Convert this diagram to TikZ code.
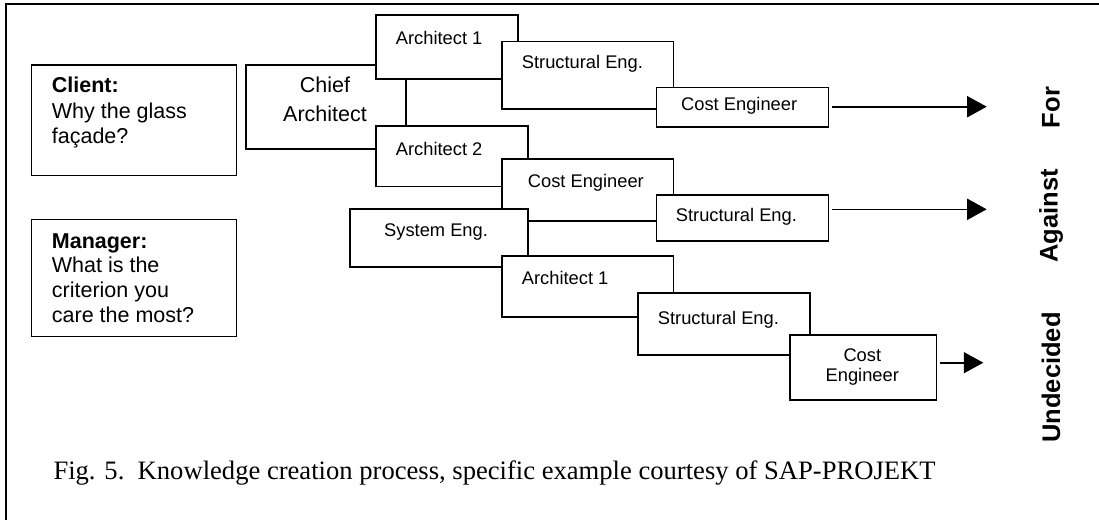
\documentclass[tikz,border=0pt]{standalone}
\usepackage{fontspec}
\setmainfont{Liberation Sans}
\newfontfamily\capfont{Liberation Serif}
\usetikzlibrary{arrows.meta,calc}
\tikzset{
  box/.style 2 args={draw, line width=1.6pt, fill=white, inner sep=0pt, anchor=north west,
    minimum width=#1pt, minimum height=#2pt},
  qbox/.style 2 args={box={#1}{#2}},
  small/.style={inner sep=0pt, anchor=base west, font=\fontsize{18.3}{22}\selectfont},
  smallc/.style={inner sep=0pt, anchor=base, font=\fontsize{18.3}{22}\selectfont},
  big/.style={inner sep=0pt, anchor=base west, font=\fontsize{21.5}{25}\selectfont},
  bigc/.style={inner sep=0pt, anchor=base, font=\fontsize{21.5}{25}\selectfont},
  bigb/.style={inner sep=0pt, anchor=base west, font=\fontsize{21.5}{25}\selectfont\bfseries},
  verdict/.style={inner sep=0pt, anchor=center, rotate=90, font=\fontsize{25.5}{30}\selectfont\bfseries},
  arr/.style={line width=1.6pt, -{Triangle[length=19.5pt,width=21pt]}, shorten <=3pt},
  frame/.style={line width=2pt}
}
\begin{document}
\begin{tikzpicture}[x=1pt,y=-1pt]
\useasboundingbox (0,0) rectangle (1099,519);
% outer frame (only left and top edges visible)
\coordinate (fb) at (6,525);
\coordinate (ftl) at (6,4);
\coordinate (fr) at (1105,4);
\draw[frame] (fb) -- (ftl) -- (fr);

% question boxes
\node[qbox={205.2}{110.4}] (client) at (30.5,64.3) {};
\node[bigb] (clientT) at (51.7,92.5) {Client:};
\node[big] (client1) at (51.7,118) {Why the glass};
\node[big] (client2) at (51.7,143) {façade?};

\node[qbox={205.2}{117}] (manager) at (30.5,218.7) {};
\node[bigb] (managerT) at (51.7,248.3) {Manager:};
\node[big] (manager1) at (51.7,272.5) {What is the};
\node[big] (manager2) at (51.7,297.5) {criterion you};
\node[big] (manager3) at (51.7,322.5) {care the most?};

% role boxes (later ones overlap earlier ones)
\node[box={160}{84}] (chief) at (245,64.3) {};
\node[bigc] (chiefT1) at (325,92.7) {Chief};
\node[bigc] (chiefT2) at (325,121.7) {Architect};

\node[box={142.3}{64}] (a1) at (375,14.3) {};
\node[small] (a1t) at (395.7,45) {Architect 1};

\node[box={152.3}{60.7}] (a2) at (375,125) {};
\node[small] (a2t) at (395.7,155.6) {Architect 2};

\node[box={171.7}{67.6}] (s1) at (501,40.7) {};
\node[small] (s1t) at (521.7,68.3) {Structural Eng.};

\node[box={172}{39.3}] (c1) at (655.7,86.7) {};
\node[small] (c1t) at (681,110.8) {Cost Engineer};

\node[box={171.7}{61.7}] (c2) at (501,158.3) {};
\node[small] (c2t) at (527.7,187.6) {Cost Engineer};

\node[box={172}{45.7}] (s2) at (655.7,194.3) {};
\node[small] (s2t) at (675.7,221.6) {Structural Eng.};

\node[box={178.3}{58}] (se) at (349,208.3) {};
\node[small] (set) at (384,236.6) {System Eng.};

\node[box={171.7}{61}] (a3) at (501,255) {};
\node[small] (a3t) at (521.7,284.3) {Architect 1};

\node[box={172}{62}] (s3) at (637.3,292.3) {};
\node[small] (s3t) at (657.7,324.9) {Structural Eng.};

\node[box={146.7}{64.7}] (c3) at (789,334.3) {};
\node[smallc] (c3t1) at (862.3,361.6) {Cost};
\node[smallc] (c3t2) at (862.3,381.6) {Engineer};

% outcome arrows
\coordinate (t1) at (986.7,106.7);
\coordinate (t2) at (986.7,209.3);
\coordinate (t3) at (983.3,362.7);
\draw[arr] (c1.east |- t1) -- (t1);
\draw[arr] (s2.east |- t2) -- (t2);
\draw[arr] (c3.east |- t3) -- (t3);

% verdict labels
\node[verdict] (vfor) at (1051,107.5) {For};
\node[verdict] (vagainst) at (1051,216) {Against};
\node[verdict] (vund) at (1051,377.5) {Undecided};

% caption
\node[inner sep=0pt, anchor=base west, font=\capfont\fontsize{26.6}{30}\selectfont] (caption) at (53.3,479)
  {Fig. 5.\ \ Knowledge creation process, specific example courtesy of SAP-PROJEKT};
\end{tikzpicture}
\end{document}
